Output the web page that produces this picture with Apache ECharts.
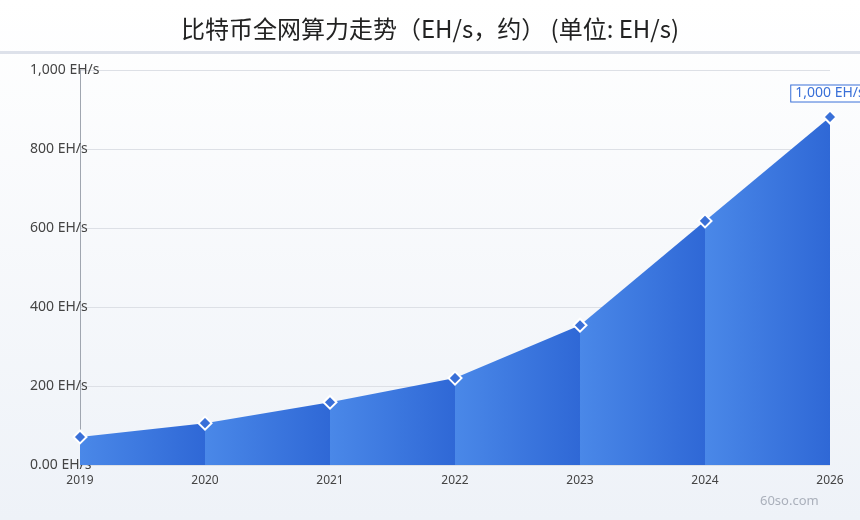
<!DOCTYPE html>
<html><head><meta charset="utf-8">
<script src="https://cdn.jsdelivr.net/npm/echarts@6/dist/echarts.min.js"></script>
<style>html,body{margin:0;padding:0;}#c{width:860px;height:520px;background:linear-gradient(#ffffff,#eef2f8);}</style>
</head><body><div id="c"></div>
<script>
const categories = ['2019','2020','2021','2022','2023','2024','2026'];
const values = [71, 106, 159, 220, 354, 618, 881];
const yTicks = [0, 200, 400, 600, 800, 1000];
const lastLabel = '1,000 EH/s';

const chart = echarts.init(document.getElementById('c'));
const fmt = v => v === 0 ? '0.00 EH/s' : v.toLocaleString('en-US') + ' EH/s';
const series = [];
for (let i = 0; i < values.length - 1; i++) {
  const d = values.map((v, j) => (j === i || j === i + 1) ? v : null);
  series.push({
    type: 'line', data: d, showSymbol: false, symbol: 'none', silent: true,
    lineStyle: { width: 0 }, connectNulls: false,
    areaStyle: { opacity: 1, color: new echarts.graphic.LinearGradient(0, 0, 1, 0, [
      { offset: 0, color: '#4a88e8' }, { offset: 1, color: '#2f68d6' }]) },
    z: 2
  });
}
const pts = values.map((v, j) => j === values.length - 1 ? {
  value: v,
  label: { show: true, position: 'top', distance: 8, formatter: lastLabel,
    color: '#3a70d8', fontSize: 14, fontFamily: 'Noto Sans',
    backgroundColor: '#ffffff', borderColor: '#3a70d8', borderWidth: 1, padding: [1, 4] }
} : v);
series.push({
  type: 'line', data: pts, symbol: 'diamond', symbolSize: 13,
  lineStyle: { width: 0 },
  itemStyle: { color: '#3a70d8', borderColor: '#ffffff', borderWidth: 2 },
  z: 5
});
chart.setOption({
  animation: false,
  title: { text: '比特币全网算力走势（EH/s，约） (单位: EH/s)', left: 'center', top: 12,
    textStyle: { fontFamily: 'Noto Sans CJK SC', fontSize: 24, fontWeight: 'normal', color: '#222' } },
  graphic: [
    { type: 'rect', shape: { x: 0, y: 51, width: 860, height: 3 }, style: { fill: '#dde1ea' } },
    { type: 'text', left: 760, top: 495, style: { text: '60so.com', fill: '#aab0bb', font: '13px Noto Sans' } }
  ],
  grid: { left: 80, right: 30, top: 70, bottom: 55 },
  xAxis: { type: 'category', data: categories, boundaryGap: false,
    axisLine: { show: false }, axisTick: { show: false },
    axisLabel: { color: '#444', fontSize: 12, fontFamily: 'Noto Sans', margin: 10 } },
  yAxis: { type: 'value', min: 0, max: 1000, interval: 200,
    axisLine: { show: true, lineStyle: { color: '#a0a6b0' } }, axisTick: { show: false },
    splitLine: { lineStyle: { color: '#dde0e6' } },
    axisLabel: { formatter: fmt, align: 'left', margin: 50, color: '#444', fontSize: 14, fontFamily: 'Noto Sans' } },
  series
});
</script></body></html>
